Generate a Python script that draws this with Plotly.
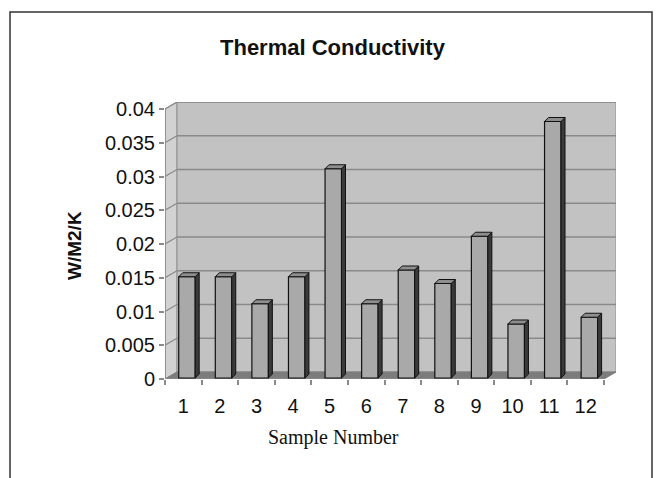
import plotly.graph_objects as go

# ---- data ----
samples = [1, 2, 3, 4, 5, 6, 7, 8, 9, 10, 11, 12]
conductivity = [0.015, 0.015, 0.011, 0.015, 0.031, 0.011, 0.016, 0.014, 0.021, 0.008, 0.038, 0.009]
y_ticks = [0, 0.005, 0.01, 0.015, 0.02, 0.025, 0.03, 0.035, 0.04]
y_tick_labels = ["0", "0.005", "0.01", "0.015", "0.02", "0.025", "0.03", "0.035", "0.04"]
title_text = "Thermal Conductivity"
x_title = "Sample Number"
y_title = "W/M2/K"

# ---- geometry (pixel layout of the 660x478 canvas) ----
W, H = 660, 478
FX0, FX1 = 165, 604          # front frame x
FY0, FYT = 379, 109          # y pixel of 0 and of 0.04
DPX, DPY = 12, 7             # depth offset of back wall in pixels
n = len(samples)
px_per_cat = (FX1 - FX0) / n
px_per_val = (FY0 - FYT) / y_ticks[-1]
DX = DPX / px_per_cat
DY = DPY / px_per_val
x_lo = 0.5
x_hi = x_lo + (FX1 + DPX - FX0) / px_per_cat
y_hi = (FY0 - (FYT - DPY)) / px_per_val

BAR_W = 0.45
BAR_SHIFT = 0.10
BAR_BASE = 0.00015
bdx = 4 / px_per_cat
bdy = 4 / px_per_val

fig = go.Figure()

# front faces of the columns
fig.add_trace(go.Bar(
    x=samples, y=conductivity, base=BAR_BASE, width=BAR_W,
    offset=-BAR_W / 2 + BAR_SHIFT,
    marker=dict(color="#a9a9a9", line=dict(color="#111111", width=1.2)),
    hoverinfo="skip", showlegend=False,
))

# side and top faces computed from the data
sx, sy, tx, ty = [], [], [], []
for c, v in zip(samples, conductivity):
    xl = c - BAR_W / 2 + BAR_SHIFT
    xr = xl + BAR_W
    top = BAR_BASE + v
    sx += [xr, xr + bdx, xr + bdx, xr, xr, None]
    sy += [BAR_BASE, BAR_BASE + bdy, top + bdy, top, BAR_BASE, None]
    tx += [xl, xr, xr + bdx, xl + bdx, xl, None]
    ty += [top, top, top + bdy, top + bdy, top, None]

fig.add_trace(go.Scatter(x=sx, y=sy, mode="lines", fill="toself", fillcolor="#3a3a3a",
                         line=dict(color="#111111", width=1), hoverinfo="skip", showlegend=False))
fig.add_trace(go.Scatter(x=tx, y=ty, mode="lines", fill="toself", fillcolor="#8e8e8e",
                         line=dict(color="#111111", width=1), hoverinfo="skip", showlegend=False))

shapes = []
# side wall
shapes.append(dict(type="path", xref="x", yref="y", layer="below",
                   path=f"M {x_lo},0 L {x_lo},{y_ticks[-1]} L {x_lo+DX},{y_ticks[-1]+DY} L {x_lo+DX},{DY} Z",
                   fillcolor="#d2d2d2", line=dict(color="#909090", width=1)))
# back wall
shapes.append(dict(type="rect", xref="x", yref="y", layer="below",
                   x0=x_lo + DX, x1=n + 0.5 + DX, y0=DY, y1=y_ticks[-1] + DY,
                   fillcolor="#c2c2c2", line=dict(color="#909090", width=1)))
# gridlines on walls
for t in y_ticks[1:]:
    shapes.append(dict(type="line", xref="x", yref="y", layer="below",
                       x0=x_lo + DX, x1=n + 0.5 + DX, y0=t + DY, y1=t + DY,
                       line=dict(color="#8a8a8a", width=1.5)))
    shapes.append(dict(type="line", xref="x", yref="y", layer="below",
                       x0=x_lo, x1=x_lo + DX, y0=t, y1=t + DY,
                       line=dict(color="#8a8a8a", width=1.2)))
# floor
shapes.append(dict(type="path", xref="x", yref="y", layer="below",
                   path=f"M {x_lo},0 L {n+0.5},0 L {n+0.5+DX},{DY} L {x_lo+DX},{DY} Z",
                   fillcolor="#7c7c7c", line=dict(color="#7c7c7c", width=1)))
# front axis lines
shapes.append(dict(type="line", xref="x", yref="y", layer="below",
                   x0=x_lo, x1=x_lo, y0=0, y1=y_ticks[-1], line=dict(color="#8a8a8a", width=1.5)))
shapes.append(dict(type="line", xref="x", yref="y", layer="below",
                   x0=x_lo, x1=n + 0.5, y0=0, y1=0, line=dict(color="#8a8a8a", width=1.5)))
# outer chart border
shapes.append(dict(type="rect", xref="paper", yref="paper", layer="above",
                   x0=10 / W, x1=652 / W, y0=-0.05, y1=1 - 12 / H,
                   line=dict(color="#333333", width=1.5), fillcolor="rgba(0,0,0,0)"))

annotations = [
    dict(text=f"<b>{title_text}</b>", x=333 / W, y=1 - 47 / H, xref="paper", yref="paper",
         showarrow=False, xanchor="center", yanchor="middle",
         font=dict(family="Liberation Sans, Arial", size=22, color="#111111")),
    dict(text=x_title, x=333 / W, y=1 - 437 / H, xref="paper", yref="paper",
         showarrow=False, xanchor="center", yanchor="middle",
         font=dict(family="Liberation Serif, Times New Roman", size=20, color="#111111")),
    dict(text=f"<b>{y_title}</b>", x=75 / W, y=1 - 246 / H, xref="paper", yref="paper",
         showarrow=False, xanchor="center", yanchor="middle", textangle=-90,
         font=dict(family="Liberation Sans, Arial", size=19, color="#111111")),
]

fig.update_layout(
    width=W, height=H,
    margin=dict(l=0, r=0, t=0, b=0),
    paper_bgcolor="white", plot_bgcolor="white",
    template="none",
    showlegend=False, hovermode=False,
    shapes=shapes, annotations=annotations,
    xaxis=dict(domain=[FX0 / W, (FX1 + DPX) / W], range=[x_lo, x_hi],
               tickvals=samples, ticktext=[str(s) for s in samples],
               ticks="outside", ticklen=9, tickcolor="rgba(0,0,0,0)",
               minor=dict(tickvals=[s + 0.5 for s in [0] + samples], ticks="outside",
                          ticklen=5, tickcolor="#8a8a8a", tickwidth=1.5),
               showgrid=False, zeroline=False, showline=False, automargin=False,
               tickfont=dict(family="Liberation Sans, Arial", size=20, color="#111111")),
    yaxis=dict(domain=[(H - FY0) / H, (H - FYT + DPY) / H], range=[0, y_hi],
               tickvals=y_ticks, ticktext=y_tick_labels,
               ticks="outside", ticklen=5, tickcolor="#8a8a8a", tickwidth=1.5,
               showgrid=False, zeroline=False, showline=False, automargin=False,
               tickfont=dict(family="Liberation Sans, Arial", size=20, color="#111111")),
)

fig.write_html("out.html")
